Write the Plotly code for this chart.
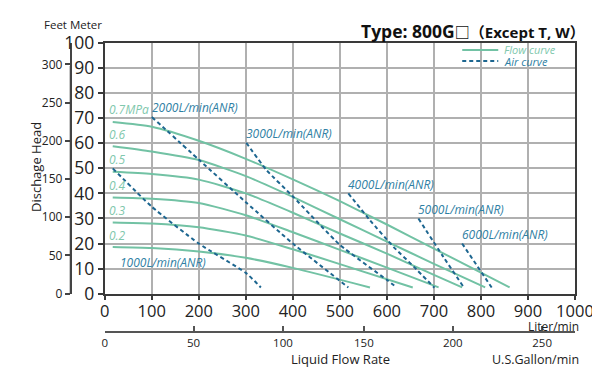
import plotly.graph_objects as go

# ---------------- data ----------------
# Flow curves: liquid flow (L/min) vs discharge head (m)
FLOW_07_L = [17, 100, 200, 300, 400, 500, 600, 700, 800, 861]
FLOW_07_H = [68.5, 66.6, 61.0, 53.8, 45.6, 36.9, 27.6, 18.0, 8.4, 2.5]
FLOW_06_L = [17, 100, 200, 300, 400, 500, 600, 700, 809]
FLOW_06_H = [58.8, 56.7, 53.3, 46.9, 38.6, 29.7, 20.8, 11.9, 2.5]
FLOW_05_L = [17, 100, 200, 300, 400, 500, 600, 700, 760]
FLOW_05_H = [48.6, 47.7, 45.5, 40.0, 32.3, 24.0, 16.0, 7.5, 2.5]
FLOW_04_L = [17, 100, 200, 300, 400, 500, 600, 710]
FLOW_04_H = [38.4, 37.9, 36.2, 31.3, 24.5, 17.5, 10.4, 2.5]
FLOW_03_L = [17, 100, 200, 300, 400, 500, 655]
FLOW_03_H = [28.4, 28.0, 26.5, 23.2, 17.7, 11.8, 2.5]
FLOW_02_L = [17, 100, 200, 300, 400, 564]
FLOW_02_H = [18.6, 18.2, 16.8, 14.3, 10.3, 2.5]
FLOW_LABELS = ["0.7MPa", "0.6", "0.5", "0.4", "0.3", "0.2"]

# Air consumption curves
AIR_1000_L = [17, 100, 200, 300, 332]
AIR_1000_H = [50.0, 34.7, 20.0, 8.3, 2.5]
AIR_2000_L = [100, 200, 300, 400, 518]
AIR_2000_H = [70.5, 53.5, 36.5, 20.0, 2.5]
AIR_3000_L = [301, 344, 400, 500, 600, 621]
AIR_3000_H = [60.2, 49.3, 38.8, 19.5, 5.5, 2.5]
AIR_4000_L = [518, 564, 614, 657, 701]
AIR_4000_H = [40.0, 29.3, 18.7, 10.8, 2.4]
AIR_5000_L = [667, 720, 764]
AIR_5000_H = [30.0, 14.7, 2.4]
AIR_6000_L = [760, 823]
AIR_6000_H = [20.0, 2.4]
AIR_LABELS = ["1000L/min(ANR)", "2000L/min(ANR)", "3000L/min(ANR)",
              "4000L/min(ANR)", "5000L/min(ANR)", "6000L/min(ANR)"]

# Axes ticks
LITER_TICKS = [0, 100, 200, 300, 400, 500, 600, 700, 800, 900, 1000]
METER_TICKS = [0, 10, 20, 30, 40, 50, 60, 70, 80, 90, 100]
FEET_TICKS = [0, 50, 100, 150, 200, 250, 300]
GALLON_TICK_LABELS = [0, 50, 100, 150, 200, 250]
GALLON_TICK_AT_LITER = [0, 189, 379, 551, 740, 930]
FT_PER_M = 1 / 0.3048

# ---------------- styling ----------------
FONT = "Open Sans, Noto Sans CJK JP, DejaVu Sans, sans-serif"
FLOW_COLOR = "#72c2a4"
FLOW_TEXT = "#7fc8ad"
AIR_COLOR = "#1d6690"
AIR_TEXT = "#2f7fa4"
GRID = "#b0b0b0"
AXIS = "#3a3a3a"

# The page body has an 8px default margin: the figure starts at (8, 8) in the window.
OFF = 8
W, H = 600 - OFF, 382 - OFF
ML, MR, MT, MB = 32, 25.3, 35, 7
PW = W - ML - MR
PH = H - MT - MB

PLOT_TOP_PX, PLOT_BOTTOM_PX = 43, 293.7


def px_x(p):
    """window pixel -> paper x"""
    return (p - OFF - ML) / PW


def px_y(p):
    """window pixel -> paper y"""
    return (H - MB - (p - OFF)) / PH


Y_DOM = [px_y(PLOT_BOTTOM_PX), px_y(PLOT_TOP_PX)]
Y_MAX = METER_TICKS[-1]
PX_PER_M = (PLOT_BOTTOM_PX - PLOT_TOP_PX) / Y_MAX

fig = go.Figure()

flows = [(FLOW_07_L, FLOW_07_H), (FLOW_06_L, FLOW_06_H), (FLOW_05_L, FLOW_05_H),
         (FLOW_04_L, FLOW_04_H), (FLOW_03_L, FLOW_03_H), (FLOW_02_L, FLOW_02_H)]
airs = [(AIR_1000_L, AIR_1000_H), (AIR_2000_L, AIR_2000_H), (AIR_3000_L, AIR_3000_H),
        (AIR_4000_L, AIR_4000_H), (AIR_5000_L, AIR_5000_H), (AIR_6000_L, AIR_6000_H)]

for (xs, ys), lab in zip(flows, FLOW_LABELS):
    fig.add_trace(go.Scatter(x=xs, y=ys, mode="lines", name=lab,
                             line=dict(color=FLOW_COLOR, width=2, shape="spline", smoothing=0.6),
                             showlegend=False, hoverinfo="skip"))

for (xs, ys), lab in zip(airs, AIR_LABELS):
    fig.add_trace(go.Scatter(x=xs, y=ys, mode="lines", name=lab,
                             line=dict(color=AIR_COLOR, width=2, dash="4px,3px",
                                       shape="spline", smoothing=0.5),
                             showlegend=False, hoverinfo="skip"))

# invisible traces to activate secondary axes
fig.add_trace(go.Scatter(x=[0], y=[0], yaxis="y2", mode="markers",
                         marker=dict(opacity=0), showlegend=False, hoverinfo="skip"))
fig.add_trace(go.Scatter(x=[0], y=[0], xaxis="x2", mode="markers",
                         marker=dict(opacity=0), showlegend=False, hoverinfo="skip"))

annotations = []
# pressure labels
for (xs, ys), lab in zip(flows, FLOW_LABELS):
    annotations.append(dict(x=xs[0], y=ys[0], xref="x", yref="y", text=f"<i>{lab}</i>",
                            showarrow=False, xanchor="left", yanchor="middle",
                            xshift=-6, yshift=12,
                            font=dict(family=FONT, size=12, color=FLOW_TEXT)))
# air labels
for i, ((xs, ys), lab) in enumerate(zip(airs, AIR_LABELS)):
    if i == 0:
        annotations.append(dict(x=29, y=12.5, xref="x", yref="y", text=f"<i>{lab}</i>",
                                showarrow=False, xanchor="left", yanchor="middle",
                                font=dict(family=FONT, size=12, color=AIR_TEXT)))
    else:
        annotations.append(dict(x=xs[0], y=ys[0], xref="x", yref="y", text=f"<i>{lab}</i>",
                                showarrow=False, xanchor="left", yanchor="middle",
                                xshift=-2, yshift=9,
                                font=dict(family=FONT, size=12, color=AIR_TEXT)))

# feet axis line from 0 ft to the top feet tick (drawn as an arrow without head)
feet_line_px = FEET_TICKS[-1] / FT_PER_M * PX_PER_M
annotations.append(dict(x=px_x(70.5), y=Y_DOM[0], xref="paper", yref="paper", text="",
                        showarrow=True, arrowhead=0, arrowwidth=1.6, arrowcolor="#444",
                        ax=0, ay=-feet_line_px, standoff=0, startstandoff=0))

# axis titles / units
annotations += [
    dict(x=px_x(42), y=px_y(25), xref="paper", yref="paper", text="Feet Meter",
         showarrow=False, xanchor="left", yanchor="middle",
         font=dict(family=FONT, size=11.5, color="#222")),
    dict(x=px_x(36), y=px_y(167), xref="paper", yref="paper", text="Dischage Head",
         showarrow=False, textangle=-90, xanchor="center", yanchor="middle",
         font=dict(family=FONT, size=13, color="#222")),
    dict(x=px_x(581), y=px_y(326), xref="paper", yref="paper", text="Liter/min",
         showarrow=False, xanchor="right", yanchor="middle",
         font=dict(family=FONT, size=12, color="#222")),
    dict(x=px_x(340), y=px_y(359), xref="paper", yref="paper", text="Liquid Flow Rate",
         showarrow=False, xanchor="center", yanchor="middle",
         font=dict(family=FONT, size=13, color="#222")),
    dict(x=px_x(581), y=px_y(359), xref="paper", yref="paper", text="U.S.Gallon/min",
         showarrow=False, xanchor="right", yanchor="middle",
         font=dict(family=FONT, size=12.5, color="#222")),
    dict(x=px_x(587), y=px_y(31), xref="paper", yref="paper",
         text="<b><span style='font-size:17.5px'>Type: 800G</span>□"
              "<span style='font-size:15px'>（Except T, W）</span></b>",
         showarrow=False, xanchor="right", yanchor="middle",
         font=dict(family=FONT, size=15, color="#111")),
    # legend texts
    dict(x=px_x(502), y=px_y(49.5), xref="paper", yref="paper", text="<i>Flow curve</i>",
         showarrow=False, xanchor="left", yanchor="middle",
         font=dict(family=FONT, size=11, color=FLOW_TEXT)),
    dict(x=px_x(502), y=px_y(61.5), xref="paper", yref="paper", text="<i>Air curve</i>",
         showarrow=False, xanchor="left", yanchor="middle",
         font=dict(family=FONT, size=11, color=AIR_TEXT)),
]

shapes = [
    # white legend backdrop over the grid
    dict(type="rect", xref="paper", yref="paper", x0=px_x(456), x1=px_x(573.5),
         y0=px_y(67), y1=px_y(44), fillcolor="white", line=dict(width=0), layer="between"),
    dict(type="line", xref="paper", yref="paper", x0=px_x(462), x1=px_x(498),
         y0=px_y(50), y1=px_y(50), line=dict(color=FLOW_COLOR, width=1.8)),
    dict(type="line", xref="paper", yref="paper", x0=px_x(462), x1=px_x(498),
         y0=px_y(61), y1=px_y(61), line=dict(color=AIR_COLOR, width=1.8, dash="4px,3px")),
]

fig.update_layout(
    width=W, height=H,
    margin=dict(l=ML, r=MR, t=MT, b=MB, autoexpand=False),
    paper_bgcolor="white", plot_bgcolor="white",
    font=dict(family=FONT, color="#222"),
    showlegend=False,
    xaxis=dict(domain=[px_x(104.7), px_x(574.7)], range=[0, 1000], tickvals=LITER_TICKS,
               showgrid=True, gridcolor=GRID, gridwidth=1.5, zeroline=False,
               showline=True, linecolor=AXIS, linewidth=2, mirror=True,
               ticks="outside", ticklen=4, tickcolor=AXIS, tickwidth=1.5,
               ticklabelstandoff=-3, automargin=False,
               tickfont=dict(family=FONT, size=16.5, color="#222")),
    yaxis=dict(domain=Y_DOM, range=[0, Y_MAX], tickvals=METER_TICKS,
               showgrid=True, gridcolor=GRID, gridwidth=1.5, zeroline=False,
               showline=True, linecolor=AXIS, linewidth=2, mirror=True,
               ticks="outside", ticklen=5, tickcolor=AXIS, tickwidth=1.5,
               automargin=False,
               tickfont=dict(family=FONT, size=17.5, color="#222")),
    yaxis2=dict(overlaying="y", anchor="free", position=px_x(70.5), side="left",
                range=[0, Y_MAX * FT_PER_M], tickvals=FEET_TICKS,
                showgrid=False, zeroline=False, showline=True, linecolor="#444",
                linewidth=1.5,
                ticks="outside", ticklen=5, tickcolor="#444", tickwidth=1.5,
                automargin=False,
                tickfont=dict(family=FONT, size=12, color="#222")),
    xaxis2=dict(overlaying="x", anchor="free", position=px_y(332), side="bottom",
                range=[0, 1000], tickvals=GALLON_TICK_AT_LITER,
                ticktext=[str(v) for v in GALLON_TICK_LABELS],
                showgrid=False, zeroline=False, showline=True, linecolor="#555",
                linewidth=1.5, ticks="inside", ticklen=5, tickcolor="#555", tickwidth=1.5,
                automargin=False,
                tickfont=dict(family=FONT, size=11.5, color="#222")),
    annotations=annotations,
    shapes=shapes,
)

fig.write_html("out.html", config={"displayModeBar": False})
